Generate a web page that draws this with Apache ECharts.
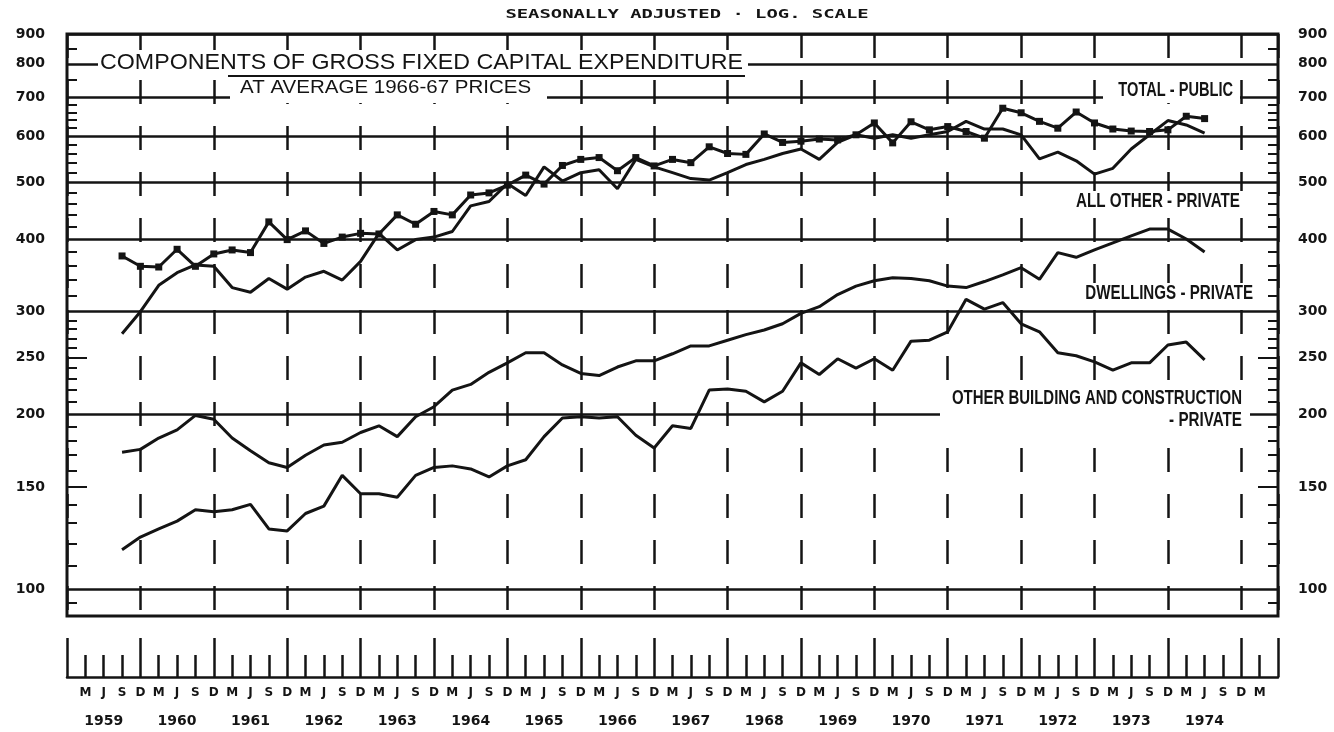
<!DOCTYPE html>
<html>
<head>
<meta charset="utf-8">
<title>Components of gross fixed capital expenditure</title>
<script src="https://cdn.jsdelivr.net/npm/echarts@6/dist/echarts.min.js"></script>
<style>
  html, body { margin: 0; padding: 0; background: #fff; }
  #chart { width: 1334px; height: 732px; }
</style>
</head>
<body>
<div id="chart"></div>
<script>
// quarter index 0 = Dec 1958 ... 66 = Jun 1975; the series start at Sep 1959 (index 3)
const quarterLetters = ['D', 'M', 'J', 'S'];
const years = [1959, 1960, 1961, 1962, 1963, 1964, 1965, 1966, 1967, 1968, 1969, 1970, 1971, 1972, 1973, 1974];
const firstQuarter = 3;
const lastQuarter = 66;

// $m, seasonally adjusted, at average 1966-67 prices
const totalPublic = [
    374, 359, 358, 384, 359, 377, 383, 379, 428, 399, 413, 393, 403, 409, 408, 440, 424, 446, 440, 476,
    480, 495, 515, 497, 535, 548, 552, 524, 552, 534, 548, 541, 576, 561, 559, 606, 586, 589, 594, 592,
    604, 633, 585, 636, 616, 624, 612, 596, 671, 659, 637, 620, 661, 633, 618, 613, 612, 616, 650, 644,
];
const allOtherPrivate = [
    275, 300, 333, 350, 361, 359, 330, 324, 342, 328, 344, 352, 340, 366, 409, 383, 399, 403, 412, 456,
    464, 498, 475, 532, 503, 520, 526, 488, 548, 532, 520, 508, 505, 520, 537, 548, 561, 571, 548, 586,
    604, 596, 604, 596, 604, 612, 637, 618, 618, 604, 549, 564, 545, 517, 529, 571, 604, 639, 628, 608,
];
const dwellingsPrivate = [
    172, 174, 182, 188, 199, 196, 182, 173, 165, 162, 170, 177, 179, 186, 191, 183, 198, 206, 220, 225,
    236, 245, 255, 255, 243, 235, 233, 241, 247, 247, 254, 262, 262, 268, 274, 279, 286, 298, 306, 321,
    332, 339, 343, 342, 339, 332, 330, 338, 347, 357, 341, 379, 372, 383, 394, 405, 416, 416, 400, 380,
];
const otherBuildingPrivate = [
    117, 123, 127, 131, 137, 136, 137, 140, 127, 126, 135, 139, 157, 146, 146, 144, 157, 162, 163, 161,
    156, 163, 167, 183, 197, 198, 197, 198, 184, 175, 191, 189, 220, 221, 219, 210, 219, 245, 234, 249,
    240, 249, 238, 267, 268, 277, 315, 303, 311, 286, 277, 255, 252, 246, 238, 245, 245, 263, 266, 248,
];

// log scale from 90 to 900
const yMin = 90;
const yMax = 900;
const yLabelValues = [100, 150, 200, 250, 300, 400, 500, 600, 700, 800, 900];
const yGridValues = [100, 200, 300, 400, 500, 600, 700, 800, 900];
const yLongTicks = [150, 250];
const yMinorTicks = [
    95, 110, 120, 130, 140, 160, 170, 180, 190, 210, 220, 230, 240, 260, 270, 280, 290,
    320, 340, 360, 380, 420, 440, 460, 480, 520, 540, 560, 580, 620, 640, 660, 680, 750, 850,
];

const ink = '#141414';
const labelFont = 'DejaVu Sans';
const noteFont = 'bold 20px "Liberation Sans"';

const lg = Math.log10;
const toPoints = (values) => values.map((v, i) => [firstQuarter + i, v]);

// plain value axes laid over the log axis, in log10 units, so ticks can sit at any value
const decorAxis = (position, extra) => Object.assign({
    gridIndex: 0,
    type: 'value',
    position,
    min: lg(yMin),
    max: lg(yMax),
    axisLine: { show: false },
    axisLabel: { show: false },
    axisTick: { show: false },
    splitLine: { show: false },
}, extra);

const valueLabel = (margin) => ({
    show: true,
    customValues: yLabelValues.map(lg),
    formatter: (v) => String(Math.round(10 ** v)),
    margin,
    color: ink,
    fontFamily: labelFont,
    fontWeight: 'bold',
    fontSize: 14,
});

const minorTick = {
    show: true,
    inside: true,
    length: 10,
    customValues: yMinorTicks.map(lg),
    lineStyle: { color: ink, width: 2 },
};

const longTick = {
    show: true,
    inside: true,
    length: 20,
    customValues: yLongTicks.map(lg),
    lineStyle: { color: ink, width: 2 },
};

const stripAxis = (extra) => Object.assign({
    gridIndex: 1,
    type: 'value',
    position: 'bottom',
    min: 0,
    max: lastQuarter,
    interval: 1,
    axisLine: { show: false },
    axisTick: { show: false },
    axisLabel: { show: false },
    splitLine: { show: false },
}, extra);

const lineSeries = (name, values, extra) => Object.assign({
    name,
    type: 'line',
    xAxisIndex: 0,
    yAxisIndex: 0,
    data: toPoints(values),
    symbol: 'none',
    lineStyle: { color: ink, width: 3 },
    itemStyle: { color: ink },
    z: 5,
}, extra);

const note = (text, x, y, align, sx) => ({
    type: 'text',
    x,
    y,
    scaleX: sx,
    z: 11,
    style: { text, font: noteFont, fill: ink, align, verticalAlign: 'middle' },
});

const whiteBox = (x, y, width, height) => ({
    type: 'rect',
    shape: { x, y, width, height },
    style: { fill: '#fff' },
    z: 10,
});

const chart = echarts.init(document.getElementById('chart'));

const option = {
    backgroundColor: '#fff',
    animation: false,
    grid: [
        { left: 67, right: 56, top: 34, height: 582, show: true, borderColor: ink, borderWidth: 3 },
        { left: 67, right: 56, top: 638, height: 39 },
    ],
    xAxis: [
        {
            gridIndex: 0,
            type: 'value',
            position: 'bottom',
            min: 0,
            max: lastQuarter,
            interval: 4,
            axisLine: { show: false },
            axisTick: { show: false },
            axisLabel: { show: false },
            splitLine: { show: true, lineStyle: { color: ink, width: 2.5, type: [24, 22] } },
        },
        // quarter ticks and M J S D letters
        stripAxis({
            axisLine: { show: true, lineStyle: { color: ink, width: 2.5 } },
            axisTick: { show: true, inside: true, length: 22, lineStyle: { color: ink, width: 2.5 } },
            axisLabel: {
                show: true,
                margin: 10,
                formatter: (v) => (v > 0 && v < lastQuarter ? quarterLetters[v % 4] : ''),
                color: ink,
                fontFamily: labelFont,
                fontWeight: 'bold',
                fontSize: 12,
            },
        }),
        // tall ticks at the end of each year
        stripAxis({
            interval: 4,
            axisTick: { show: true, inside: true, length: 39, lineStyle: { color: ink, width: 2.5 } },
        }),
        // year labels under the June quarter
        stripAxis({
            axisLabel: {
                show: true,
                margin: 37,
                formatter: (v) => (v % 4 === 2 && years[(v - 2) / 4] ? String(years[(v - 2) / 4]) : ''),
                color: ink,
                fontFamily: labelFont,
                fontWeight: 'bold',
                fontSize: 14,
            },
        }),
    ],
    yAxis: [
        {
            gridIndex: 0,
            type: 'log',
            logBase: 10,
            min: yMin,
            max: yMax,
            axisLine: { show: false },
            axisLabel: { show: false },
            axisTick: { show: false },
            splitLine: { show: false },
        },
        decorAxis('left', { axisLabel: valueLabel(22), axisTick: minorTick }),
        decorAxis('left', { axisTick: longTick }),
        decorAxis('left', {
            axisTick: { show: false, customValues: yGridValues.map(lg) },
            splitLine: { show: true, lineStyle: { color: ink, width: 2.5 } },
        }),
        decorAxis('right', { axisLabel: valueLabel(20), axisTick: minorTick }),
        decorAxis('right', { axisTick: longTick }),
        // the strip below the chart only carries x axes
        {
            gridIndex: 1,
            type: 'value',
            min: 0,
            max: 1,
            show: false,
        },
    ],
    series: [
        lineSeries('TOTAL - PUBLIC', totalPublic, {
            symbol: 'rect',
            symbolSize: 7,
            showSymbol: true,
            z: 6,
        }),
        lineSeries('ALL OTHER - PRIVATE', allOtherPrivate),
        lineSeries('DWELLINGS - PRIVATE', dwellingsPrivate),
        lineSeries('OTHER BUILDING AND CONSTRUCTION - PRIVATE', otherBuildingPrivate),
    ],
    graphic: [
        {
            type: 'text',
            x: 687,
            y: 15,
            scaleX: 1.45,
            z: 11,
            style: {
                text: 'SEASONALLY ADJUSTED · LOG. SCALE',
                font: 'bold 13px "DejaVu Sans Mono"',
                fill: ink,
                align: 'center',
                verticalAlign: 'middle',
            },
        },
        whiteBox(98, 50, 650, 26),
        {
            type: 'text',
            x: 100,
            y: 63,
            scaleX: 1.055,
            z: 11,
            style: {
                text: 'COMPONENTS OF GROSS FIXED CAPITAL EXPENDITURE',
                font: '22px "Liberation Sans"',
                fill: ink,
                align: 'left',
                verticalAlign: 'middle',
            },
        },
        {
            type: 'line',
            shape: { x1: 228, y1: 76, x2: 745, y2: 76 },
            style: { stroke: ink, lineWidth: 2 },
            z: 12,
        },
        whiteBox(230, 77, 317, 26),
        {
            type: 'text',
            x: 240,
            y: 88,
            scaleX: 1.14,
            z: 11,
            style: {
                text: 'AT AVERAGE 1966-67 PRICES',
                font: '18px "Liberation Sans"',
                fill: ink,
                align: 'left',
                verticalAlign: 'middle',
            },
        },
        whiteBox(1103, 80, 137, 23),
        note('TOTAL - PUBLIC', 1233, 90, 'right', 0.73),
        whiteBox(1070, 191, 174, 20),
        note('ALL OTHER - PRIVATE', 1240, 201, 'right', 0.76),
        whiteBox(1080, 283, 176, 21),
        note('DWELLINGS - PRIVATE', 1253, 293, 'right', 0.757),
        whiteBox(940, 388, 310, 42),
        note('OTHER BUILDING AND CONSTRUCTION', 1242, 398, 'right', 0.748),
        note('- PRIVATE', 1242, 420, 'right', 0.76),
    ],
};

chart.setOption(option);
</script>
</body>
</html>
